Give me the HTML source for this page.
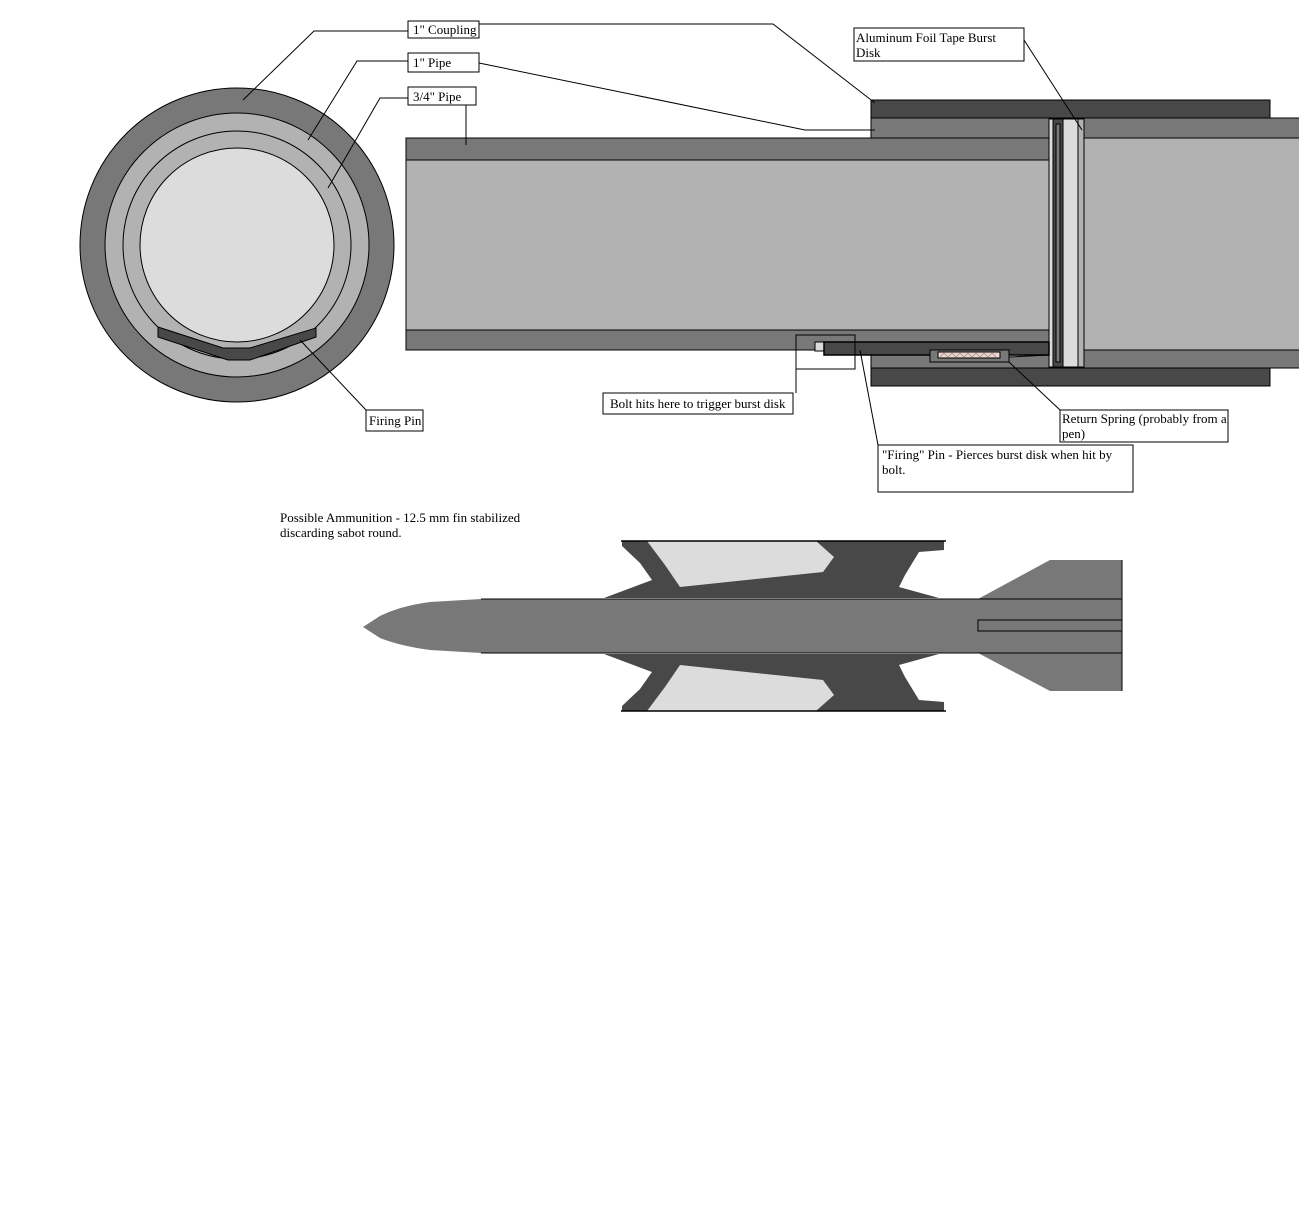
<!DOCTYPE html>
<html><head><meta charset="utf-8"><style>
html,body{margin:0;padding:0;background:#fff;}
svg{display:block;}
text{font-family:"Liberation Serif",serif;font-size:13px;fill:#000;}
</style></head><body>
<svg width="1299" height="1211" viewBox="0 0 1299 1211" xmlns="http://www.w3.org/2000/svg">
<rect width="1299" height="1211" fill="#fff"/>
<!-- circle cross-section -->
<circle cx="237" cy="245" r="157" fill="#787878" stroke="#000"/>
<circle cx="237" cy="245" r="132" fill="#b2b2b2" stroke="#000"/>
<circle cx="237" cy="245" r="114" fill="#b2b2b2" stroke="#000"/>
<circle cx="237" cy="245" r="97" fill="#dcdcdc" stroke="#000"/>
<polygon points="158,327 223,348 250,348 316,328 316,337 250,360 228,360 158,337" fill="#484848" stroke="#000"/>
<!-- main pipe -->
<rect x="406" y="138" width="644" height="212" fill="#787878" stroke="#000"/>
<rect x="406" y="160" width="644" height="170" fill="#b2b2b2" stroke="#000"/>
<!-- coupling -->
<rect x="871" y="100" width="399" height="18" fill="#484848" stroke="#000"/>
<rect x="871" y="368" width="399" height="18" fill="#484848" stroke="#000"/>
<rect x="871" y="118" width="178" height="20" fill="#787878" stroke="#000"/>
<rect x="871" y="355" width="178" height="13" fill="#787878" stroke="#000"/>
<!-- right pipe -->
<rect x="1084" y="118" width="216" height="250" fill="#787878" stroke="#000"/>
<rect x="1084" y="138" width="216" height="212" fill="#b2b2b2" stroke="#000"/>
<!-- burst disk -->
<rect x="1049" y="119" width="4" height="248" fill="#dcdcdc" stroke="#000"/>
<rect x="1053" y="119" width="10" height="248" fill="#484848" stroke="#000"/>
<rect x="1056" y="124" width="4" height="238" fill="#787878" stroke="#000"/>
<rect x="1063" y="119" width="15" height="248" fill="#dcdcdc" stroke="#000"/>
<rect x="1078" y="119" width="6" height="248" fill="#b2b2b2" stroke="#000"/>
<!-- firing mechanism -->
<polygon points="1009,354 1049,342 1049,355 1009,357" fill="#dcdcdc" stroke="#000"/>
<rect x="815" y="342" width="10" height="9" fill="#dcdcdc" stroke="#000"/>
<rect x="824" y="342" width="225" height="13" fill="#484848" stroke="#000" stroke-width="1.5"/>
<rect x="796" y="335" width="59" height="34" fill="none" stroke="#000"/>
<rect x="930" y="350" width="79" height="12" fill="#787878" stroke="#000"/>
<rect x="938" y="352" width="62" height="6" fill="#e8d8d0" stroke="#000"/>
<polyline points="940,357 944,353 948,357 952,353 956,357 960,353 964,357 968,353 972,357 976,353 980,357 984,353 988,357 992,353 996,357" fill="none" stroke="#a08080" stroke-width="0.7"/>
<!-- leader lines -->
<g stroke="#000" fill="none" stroke-width="1">
<polyline points="408,31 314,31 243,100"/>
<polyline points="479,24 773,24 875,103"/>
<polyline points="408,61 357,61 308,140"/>
<polyline points="479,63 805,130 875,130"/>
<polyline points="408,98 380,98 328,188"/>
<line x1="466" y1="105" x2="466" y2="145"/>
<line x1="1024" y1="40" x2="1082" y2="130"/>
<line x1="366" y1="410" x2="300" y2="340"/>
<polyline points="796,369 796,393"/>
<line x1="860" y1="350" x2="878" y2="445"/>
<line x1="1009" y1="362" x2="1060" y2="410"/>
</g>
<!-- label boxes -->
<g fill="#fff" stroke="#000">
<rect x="408" y="21" width="71" height="17"/>
<rect x="408" y="53" width="71" height="19"/>
<rect x="408" y="87" width="68" height="18"/>
<rect x="854" y="28" width="170" height="33"/>
<rect x="366" y="410" width="57" height="21"/>
<rect x="603" y="393" width="190" height="21"/>
<rect x="878" y="445" width="255" height="47"/>
<rect x="1060" y="410" width="168" height="32"/>
</g>
<text x="413" y="34">1" Coupling</text>
<text x="413" y="67">1" Pipe</text>
<text x="413" y="101">3/4" Pipe</text>
<text x="856" y="42">Aluminum Foil Tape Burst</text>
<text x="856" y="57">Disk</text>
<text x="369" y="425">Firing Pin</text>
<text x="610" y="408">Bolt hits here to trigger burst disk</text>
<text x="882" y="459">"Firing" Pin - Pierces burst disk when hit by</text>
<text x="882" y="474">bolt.</text>
<text x="1062" y="423">Return Spring (probably from a</text>
<text x="1062" y="438">pen)</text>
<text x="280" y="522">Possible Ammunition - 12.5 mm fin stabilized</text>
<text x="280" y="537">discarding sabot round.</text>
<!-- ammunition -->
<polygon points="622,541 944,541 944,550 919,552 905,575 899,587 939,598 604,598 652,580 640,563 622,546" fill="#484848"/>
<polygon points="647,541 816,541 834,557 823,572 680,587 665,565" fill="#dcdcdc"/>
<polygon points="622,711 944,711 944,702 919,700 905,677 899,665 939,654 604,654 652,672 640,689 622,706" fill="#484848"/>
<polygon points="647,711 816,711 834,695 823,680 680,665 665,687" fill="#dcdcdc"/>
<line x1="621" y1="541" x2="946" y2="541" stroke="#000" stroke-width="1.5"/>
<line x1="621" y1="711" x2="946" y2="711" stroke="#000" stroke-width="1.5"/>
<polygon points="978,599 1050,560 1122,560 1122,691 1050,691 978,653" fill="#787878"/>
<path d="M363,627 L380,616 Q400,606 430,602 L481,599 L1122,599 L1122,653 L481,653 L430,650 Q400,646 380,638 Z" fill="#787878"/>
<line x1="481" y1="599" x2="1122" y2="599" stroke="#000"/>
<line x1="481" y1="653" x2="1122" y2="653" stroke="#000"/>
<line x1="1122" y1="560" x2="1122" y2="691" stroke="#000"/>
<rect x="978" y="620" width="144" height="11" fill="none" stroke="#000"/>
</svg>
</body></html>
